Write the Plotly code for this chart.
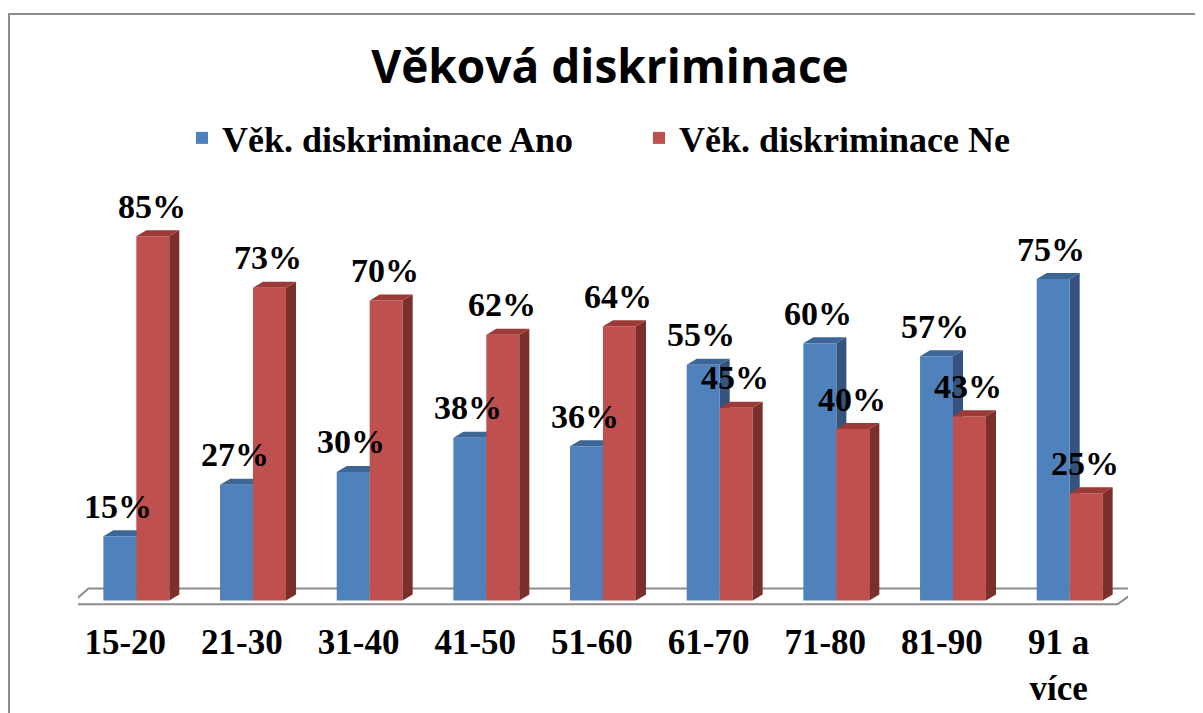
import plotly.graph_objects as go

categories = ["15-20", "21-30", "31-40", "41-50", "51-60", "61-70", "71-80", "81-90", "91 a<br>více"]
ano_values = [15, 27, 30, 38, 36, 55, 60, 57, 75]
ne_values = [85, 73, 70, 62, 64, 45, 40, 43, 25]
series_names = ["Věk. diskriminace Ano", "Věk. diskriminace Ne"]
title_text = "Věková diskriminace"

W, H = 1203, 713
OFF = 8  # browser body margin
PLOT_W, PLOT_H = 1050, 437
ML = 78 - OFF
MT = 172 - OFF
MR = W - ML - PLOT_W
MB = H - MT - PLOT_H
BARGAP = 0.435
w = (1 - BARGAP) / 2          # width of one bar in category units
DX, DY = 0.086, 1.4           # 3D depth offsets (category units, percent)
TICK_SHIFT = -0.095           # perspective shift of category labels

blue_front, blue_top, blue_side = "#4F81BD", "#3D6596", "#35537D"
red_front, red_top, red_side = "#C0504D", "#9B3A37", "#7B2F2D"
SERIF = "Liberation Serif, Times New Roman, Times, serif"

idx = list(range(len(categories)))

fig = go.Figure()
fig.add_trace(go.Bar(x=idx, y=ano_values, name=f"<b>{series_names[0]}</b>",
                     marker=dict(color=blue_front, line=dict(width=0))))
fig.add_trace(go.Bar(x=idx, y=ne_values, name=f"<b>{series_names[1]}</b>",
                     marker=dict(color=red_front, line=dict(width=0))))

shapes = []
x_lo, x_hi = -0.5, len(categories) - 0.5
shapes.append(dict(type="path", xref="x", yref="y", layer="below",
                   path=f"M {x_lo-0.065},-0.9 L {x_hi-0.09},-0.9 L {x_hi+0.1},2.8 L {x_lo+0.09},2.8 Z",
                   fillcolor="white", line=dict(color="#8C8C8C", width=2)))

def faces(left, v, top_col, side_col, layer):
    right = left + w
    top = f"M {left},{v} L {left+DX},{v+DY} L {right+DX},{v+DY} L {right},{v} Z"
    side = f"M {right},{v} L {right+DX},{v+DY} L {right+DX},{DY} L {right},0 Z"
    return [dict(type="path", xref="x", yref="y", layer=layer, path=side, fillcolor=side_col, line=dict(width=0)),
            dict(type="path", xref="x", yref="y", layer=layer, path=top, fillcolor=top_col, line=dict(width=0))]

for i in idx:
    shapes += faces(i - w, ano_values[i], blue_top, blue_side, "below")
for i in idx:
    shapes += faces(i, ne_values[i], red_top, red_side, "above")

# outer chart border
shapes.append(dict(type="rect", xref="paper", yref="paper",
                   x0=(1 - ML) / PLOT_W, x1=(W + 20 - ML) / PLOT_W,
                   y0=(MT + PLOT_H - H - 20) / PLOT_H, y1=(MT + PLOT_H - (14 - OFF)) / PLOT_H,
                   line=dict(color="#8C8C8C", width=2), fillcolor="rgba(0,0,0,0)", layer="below"))

annotations = []
lab_font = dict(family=SERIF, size=34, color="black")
for i in idx:
    annotations.append(dict(x=i - w / 2, y=ano_values[i], xref="x", yref="y", text=f"<b>{ano_values[i]}%</b>",
                            showarrow=False, yanchor="middle", yshift=30, xshift=-2, font=lab_font))
    annotations.append(dict(x=i + w / 2, y=ne_values[i], xref="x", yref="y", text=f"<b>{ne_values[i]}%</b>",
                            showarrow=False, yanchor="middle", yshift=30, xshift=-1, font=lab_font))

fig.update_layout(
    width=W, height=H,
    margin=dict(l=ML, r=MR, t=MT, b=MB),
    paper_bgcolor="white", plot_bgcolor="white",
    barmode="group", bargap=BARGAP, bargroupgap=0,
    title=dict(text=f"<b>{title_text}</b>", x=(610 - OFF) / W, xanchor="center",
               y=1 - (67 - OFF) / H, yanchor="middle",
               font=dict(family="Open Sans", size=46, color="black")),
    legend=dict(orientation="h", x=(182 - OFF - ML) / PLOT_W, xanchor="left",
                y=1 + (MT - (138 - OFF)) / PLOT_H, yanchor="middle",
                font=dict(family=SERIF, size=36, color="black"), entrywidth=412),
    xaxis=dict(range=[x_lo, x_hi], tickvals=[i + TICK_SHIFT for i in idx],
               ticktext=[f"<b>{c}</b>" for c in categories],
               showgrid=False, zeroline=False, showline=False, ticks="", ticklabelstandoff=9,
               tickfont=dict(family=SERIF, size=35, color="black")),
    yaxis=dict(range=[-2, 100], visible=False),
    shapes=shapes, annotations=annotations,
)

fig.write_html("out.html")
